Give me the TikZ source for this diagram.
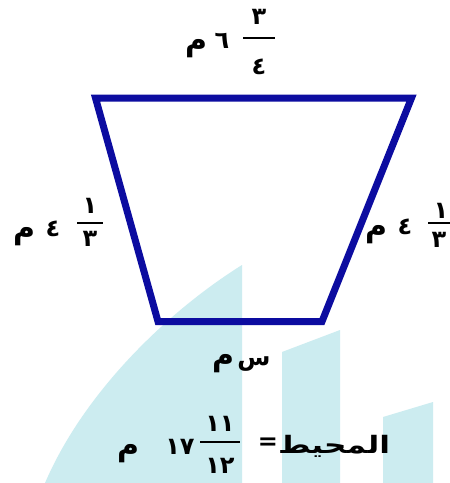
\documentclass[tikz,border=0pt]{standalone}
\usepackage{fontspec}
\newfontfamily\arabicfont[Script=Arabic]{DejaVu Sans}
\definecolor{wm}{RGB}{204,236,240}
\definecolor{trap}{RGB}{12,12,160}
\tikzset{
  lbl/.style={font=\arabicfont\bfseries\fontsize{24}{26}\selectfont, inner sep=0pt, anchor=base},
  unit/.style={lbl, scale=1.25},
  fracbar/.style={line width=2pt, black},
  side/.style={draw=trap, line width=7pt, line join=miter}
}
\begin{document}
\begin{tikzpicture}[x=1pt,y=-1pt]
\fill[white] (0,0) rectangle (450,483);
\useasboundingbox (0,0) rectangle (450,483);
% watermark shapes
\fill[wm] (242,265) .. controls (170,310) and (85,390) .. (45,483) -- (242,483) -- cycle;
\fill[wm] (282,352) -- (340,330) -- (340,483) -- (282,483) -- cycle;
\fill[wm] (383,417) -- (433,402) -- (433,483) -- (383,483) -- cycle;
% trapezoid
\coordinate (tl) at (95.5,98);
\coordinate (tr) at (411.5,98);
\coordinate (br) at (322,321.5);
\coordinate (bl) at (158,321.5);
\draw[side] (tl) -- (tr) -- (br) -- (bl) -- cycle;
% top label
\node[lbl] (tnum) at (259,24) {٣};
\node[lbl] (tden) at (259,74) {٤};
\coordinate (tbl) at (243,38); \coordinate (tbr) at (275,38);
\draw[fracbar] (tbl) -- (tbr);
\node[lbl] (twhole) at (222,48) {٦};
\node[unit] (tunit) at (196,50) {م};
% left label
\node[lbl] (lnum) at (90,213) {١};
\node[lbl] (lden) at (90,246) {٣};
\coordinate (lbl1) at (77,223); \coordinate (lbr1) at (103,223);
\draw[fracbar] (lbl1) -- (lbr1);
\node[lbl] (lwhole) at (53,236) {٤};
\node[unit] (lunit) at (24,238) {م};
% right label
\node[lbl] (rnum) at (441,218) {١};
\node[lbl] (rden) at (439,247) {٣};
\coordinate (rbl1) at (428,223); \coordinate (rbr1) at (452,223);
\draw[fracbar] (rbl1) -- (rbr1);
\node[lbl] (rwhole) at (405,234) {٤};
\node[unit] (runit) at (376,236) {م};
% bottom label
\node[lbl] (bs) at (254,365) {س};
\node[unit] (bunit) at (223,365) {م};
% perimeter
\node[lbl, xscale=1.3] (per) at (334,453) {المحيط};
\node[lbl, anchor=center] (eq) at (268,444) {=};
\node[lbl] (pnum) at (220,431) {١١};
\node[lbl] (pden) at (220,473) {١٢};
\coordinate (pbl) at (200,442); \coordinate (pbr) at (240,442);
\draw[fracbar] (pbl) -- (pbr);
\node[lbl] (pwhole) at (180,454) {١٧};
\node[unit] (punit) at (128,455) {م};
\end{tikzpicture}
\end{document}
